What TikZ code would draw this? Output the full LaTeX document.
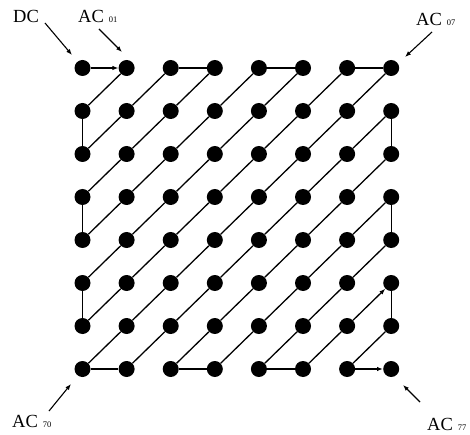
\documentclass[tikz,border=0pt]{standalone}
\usepackage{fontspec}
\setmainfont{Liberation Serif}
\usetikzlibrary{arrows.meta}
\tikzset{
  dot/.style={circle,fill=black,draw=none,inner sep=0pt,minimum size=16pt},
  link/.style={line width=1.3pt},
  linkarrow/.style={line width=1.3pt,-{Latex[length=6pt,width=4.5pt]}},
  lblarrow/.style={line width=1.1pt,-{Latex[length=6pt,width=4.5pt]}},
  lbl/.style={font=\fontsize{18.5}{20}\selectfont,inner sep=0pt,anchor=base west},
}
\newcommand{\subnum}[1]{\hspace{5pt}{\fontsize{8.5}{8.5}\selectfont #1}}
\begin{document}
\begin{tikzpicture}[x=1pt,y=-1pt]
\useasboundingbox (0,0) rectangle (470,435);
% grid of dots
\foreach \r in {0,...,7}{
  \foreach \c in {0,...,7}{
    \node[dot] (n\r\c) at ({82.5+44.1*\c},{68+43*\r}) {};
  }
}
% diagonal segments
\foreach \r in {1,...,7}{
  \foreach \c in {0,...,6}{
    \pgfmathtruncatemacro{\pr}{\r-1}
    \pgfmathtruncatemacro{\pc}{\c+1}
    \ifnum\r\c=66 \else
      \draw[link] (n\r\c) -- (n\pr\pc);
    \fi
  }
}
% top row
\draw[linkarrow] (n00) -- (n01);
\draw[link] (n02) -- (n03);
\draw[link] (n04) -- (n05);
\draw[link] (n06) -- (n07);
% left column
\draw[link] (n10) -- (n20);
\draw[link] (n30) -- (n40);
\draw[link] (n50) -- (n60);
% bottom row
\draw[link] (n70) -- (n71);
\draw[link] (n72) -- (n73);
\draw[link] (n74) -- (n75);
\draw[linkarrow] (n76) -- (n77);
% right column
\draw[link] (n17) -- (n27);
\draw[link] (n37) -- (n47);
\draw[link] (n57) -- (n67);
\draw[linkarrow] (n66) -- (n57);
% labels
\node[lbl] (dc) at (13,23) {DC};
\node[lbl] (ac01) at (78,23) {AC\subnum{01}};
\node[lbl] (ac07) at (416,26) {AC\subnum{07}};
\node[lbl] (ac70) at (12,427) {AC\subnum{70}};
\node[lbl] (ac77) at (427,430) {AC\subnum{77}};
% label arrows
\coordinate (dcs) at (45,23);   \coordinate (dce) at (72,55);
\coordinate (a01s) at (99,29);  \coordinate (a01e) at (122,52);
\coordinate (a07s) at (432,32); \coordinate (a07e) at (405,57);
\coordinate (a70s) at (49,411); \coordinate (a70e) at (71,384);
\coordinate (a77s) at (420,402);\coordinate (a77e) at (403,385);
\draw[lblarrow] (dcs) -- (dce);
\draw[lblarrow] (a01s) -- (a01e);
\draw[lblarrow] (a07s) -- (a07e);
\draw[lblarrow] (a70s) -- (a70e);
\draw[lblarrow] (a77s) -- (a77e);
\end{tikzpicture}
\end{document}
